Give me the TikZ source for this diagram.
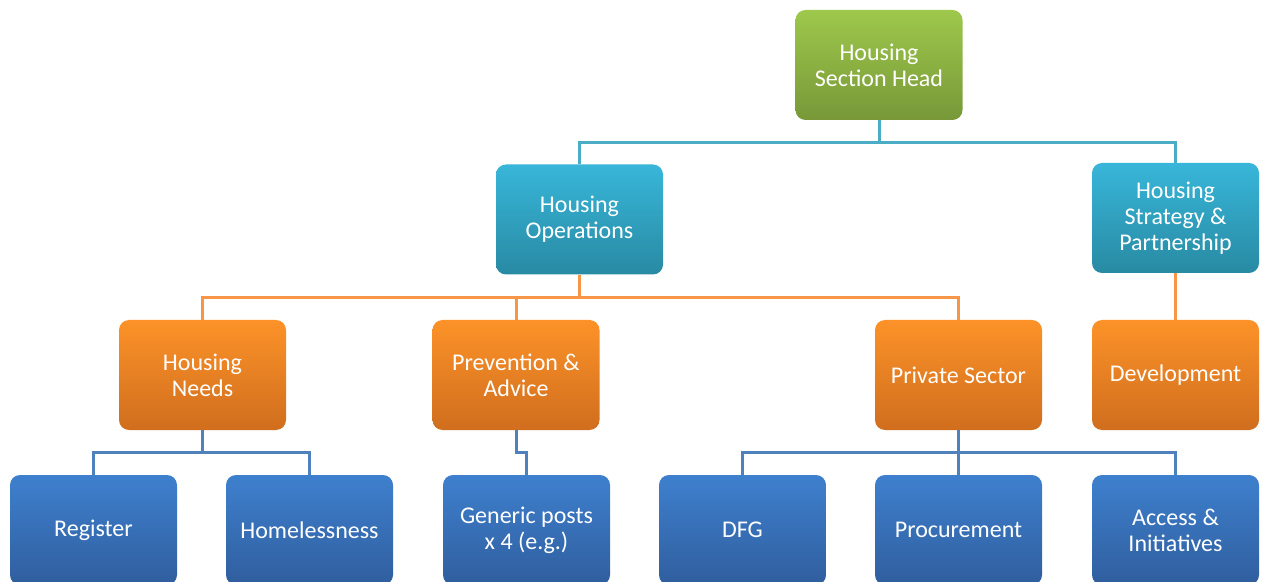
\documentclass[tikz,border=0pt]{standalone}
\usepackage{fontspec}
\setmainfont{Carlito}
\definecolor{headtop}{RGB}{158,200,76}
\definecolor{headbot}{RGB}{120,152,56}
\definecolor{tealtop}{RGB}{56,182,217}
\definecolor{tealbot}{RGB}{40,138,163}
\definecolor{orangetop}{RGB}{252,146,40}
\definecolor{orangebot}{RGB}{208,110,30}
\definecolor{bluetop}{RGB}{62,128,206}
\definecolor{bluebot}{RGB}{48,94,158}
\definecolor{tealwire}{RGB}{75,172,198}
\definecolor{orangewire}{RGB}{247,150,70}
\definecolor{bluewire}{RGB}{79,129,189}
\tikzstyle{box}=[rounded corners=5pt, minimum width=83.5pt, minimum height=55pt,
  align=center, text=white, inner sep=2pt, font=\fontsize{12}{13}\selectfont]
\tikzstyle{greenbox}=[box, top color=headtop, bottom color=headbot]
\tikzstyle{tealbox}=[box, top color=tealtop, bottom color=tealbot]
\tikzstyle{orangebox}=[box, top color=orangetop, bottom color=orangebot]
\tikzstyle{bluebox}=[box, top color=bluetop, bottom color=bluebot]
\tikzstyle{tealline}=[tealwire, line width=1.5pt]
\tikzstyle{orangeline}=[orangewire, line width=1.5pt]
\tikzstyle{blueline}=[bluewire, line width=1.5pt]
\begin{document}
\begin{tikzpicture}[x=0.5pt, y=-0.5pt]
  \clip (0,0) rectangle (1263,582);
  % top
  \node[greenbox] (head) at (879,65) {Housing\\Section Head};
  % second row
  \node[tealbox] (ops) at (579.5,219.5) {Housing\\Operations};
  \node[tealbox] (strat) at (1175.5,218) {Housing\\Strategy \&\\Partnership};
  % third row
  \node[orangebox] (needs) at (202.5,375) {Housing\\Needs};
  \node[orangebox] (prev) at (516,375) {Prevention \&\\Advice};
  \node[orangebox] (priv) at (958.5,375) {Private Sector};
  \node[orangebox] (dev) at (1175.5,375) {Development};
  % bottom row
  \node[bluebox] (reg) at (93.5,530) {Register};
  \node[bluebox] (homeless) at (309.5,530) {Homelessness};
  \node[bluebox] (generic) at (526.5,530) {Generic posts\\x 4 (e.g.)};
  \node[bluebox] (dfg) at (742.5,530) {DFG};
  \node[bluebox] (proc) at (958.5,530) {Procurement};
  \node[bluebox] (access) at (1175.5,530) {Access \&\\Initiatives};
  % connectors
  \draw[tealline] (head.south) -- ++(0,22) -| (ops.north);
  \draw[tealline] (head.south) -- ++(0,22) -| (strat.north);
  \draw[orangeline] (ops.south) -- ++(0,23) -| (needs.north);
  \draw[orangeline] (ops.south) -- ++(0,23) -| (prev.north);
  \draw[orangeline] (ops.south) -- ++(0,23) -| (priv.north);
  \draw[orangeline] (strat.south) -- (dev.north);
  \draw[blueline] (needs.south) -- ++(0,22) -| (reg.north);
  \draw[blueline] (needs.south) -- ++(0,22) -| (homeless.north);
  \draw[blueline] (prev.south) -- ++(0,22) -| (generic.north);
  \draw[blueline] (priv.south) -- ++(0,22) -| (dfg.north);
  \draw[blueline] (priv.south) -- (proc.north);
  \draw[blueline] (priv.south) -- ++(0,22) -| (access.north);
\end{tikzpicture}
\end{document}
